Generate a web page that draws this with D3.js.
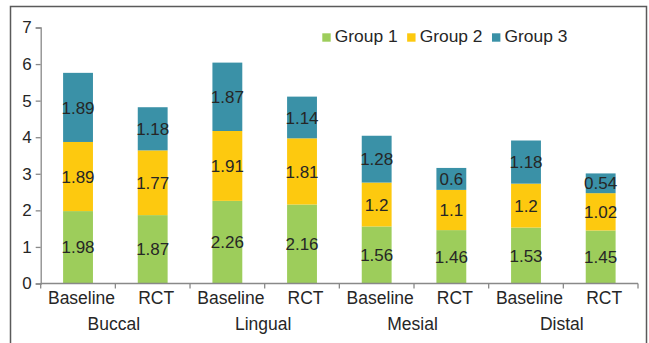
<!DOCTYPE html>
<html>
<head>
<meta charset="utf-8">
<script src="https://cdn.jsdelivr.net/npm/d3@7/dist/d3.min.js"></script>
<style>
  html, body { margin: 0; padding: 0; background: #fff; }
  svg { display: block; }
  text { font-family: "Liberation Sans", Arial, sans-serif; fill: #262626; }
</style>
</head>
<body>
<svg id="chart" width="649" height="343"></svg>
<script>
// Sites and time points (two-level category axis)
const sites = ["Buccal", "Lingual", "Mesial", "Distal"];
const phases = ["Baseline", "RCT"];
const seriesNames = ["Group 1", "Group 2", "Group 3"];
const seriesColors = ["#9dcd5b", "#fdc90f", "#3a91a7"];

// Values per bar, ordered Buccal Baseline, Buccal RCT, Lingual Baseline, ...
const group1 = [1.98, 1.87, 2.26, 2.16, 1.56, 1.46, 1.53, 1.45];
const group2 = [1.89, 1.77, 1.91, 1.81, 1.2, 1.1, 1.2, 1.02];
const group3 = [1.89, 1.18, 1.87, 1.14, 1.28, 0.6, 1.18, 0.54];
const yTicks = [0, 1, 2, 3, 4, 5, 6, 7];

const bars = [];
sites.forEach((s, i) => phases.forEach((p, j) => {
  const k = i * phases.length + j;
  bars.push({ key: s + "|" + p, site: s, phase: p,
    "Group 1": group1[k], "Group 2": group2[k], "Group 3": group3[k] });
}));

const svg = d3.select("#chart");

// outer frame
svg.append("rect")
  .attr("x", 10.5).attr("y", 6.5)
  .attr("width", 636).attr("height", 360)
  .attr("fill", "none").attr("stroke", "#5a5a5a").attr("stroke-width", 1.5);

const x0 = 40.7, x1 = 638, yBottom = 283.5, yTop = 27.5;

const x = d3.scaleBand()
  .domain(bars.map(d => d.key))
  .range([x0, x1])
  .paddingInner(0.6)
  .paddingOuter(0.3);

const y = d3.scaleLinear().domain([0, 7]).range([yBottom, yTop]);

const stack = d3.stack().keys(seriesNames);
const layers = stack(bars);

const color = d3.scaleOrdinal().domain(seriesNames).range(seriesColors);

const g = svg.append("g");
g.selectAll("g.layer")
  .data(layers)
  .join("g")
  .attr("class", "layer")
  .attr("fill", d => color(d.key))
  .selectAll("rect")
  .data(d => d)
  .join("rect")
  .attr("x", d => x(d.data.key))
  .attr("width", x.bandwidth())
  .attr("y", d => y(d[1]))
  .attr("height", d => y(d[0]) - y(d[1]));

// value labels centred in each segment
layers.forEach(layer => {
  g.selectAll(null)
    .data(layer)
    .join("text")
    .attr("x", d => x(d.data.key) + x.bandwidth() / 2)
    .attr("y", d => (y(d[0]) + y(d[1])) / 2)
    .attr("dy", "0.36em")
    .attr("text-anchor", "middle")
    .attr("font-size", 17)
    .text(d => d.data[layer.key]);
});

// y axis
const axisColor = "#898989";
const yAxis = svg.append("g")
  .attr("transform", `translate(${x0},0)`)
  .call(d3.axisLeft(y).tickValues(yTicks).tickSize(5).tickPadding(4).tickFormat(d3.format("d")));
yAxis.select(".domain").attr("stroke", axisColor).attr("stroke-width", 1.3);
yAxis.selectAll(".tick line").attr("stroke", axisColor).attr("stroke-width", 1.3);
yAxis.selectAll(".tick text")
  .attr("font-size", 17)
  .attr("font-family", "Liberation Sans, Arial, sans-serif")
  .attr("fill", "#262626");

// x axis line and boundary ticks
const xAxisG = svg.append("g");
xAxisG.append("line")
  .attr("x1", x0).attr("x2", x1)
  .attr("y1", yBottom).attr("y2", yBottom)
  .attr("stroke", axisColor).attr("stroke-width", 1.3);
const boundaries = d3.range(bars.length + 1).map(i => x0 + i * (x1 - x0) / bars.length);
xAxisG.selectAll("line.tk")
  .data(boundaries)
  .join("line")
  .attr("class", "tk")
  .attr("x1", d => d).attr("x2", d => d)
  .attr("y1", yBottom).attr("y2", yBottom + 5)
  .attr("stroke", axisColor).attr("stroke-width", 1.3);

// phase labels
xAxisG.selectAll("text.phase")
  .data(bars)
  .join("text")
  .attr("class", "phase")
  .attr("x", d => x(d.key) + x.bandwidth() / 2 + 3.5)
  .attr("y", 304)
  .attr("text-anchor", "middle")
  .attr("font-size", 17.5)
  .text(d => d.phase);

// site labels
xAxisG.selectAll("text.site")
  .data(sites)
  .join("text")
  .attr("class", "site")
  .attr("x", (d, i) => {
    const a = x(bars[i * 2].key) + x.bandwidth() / 2;
    const b = x(bars[i * 2 + 1].key) + x.bandwidth() / 2;
    return (a + b) / 2 - 1.5;
  })
  .attr("y", 329.5)
  .attr("text-anchor", "middle")
  .attr("font-size", 17.5)
  .text(d => d);

// legend
const legend = svg.append("g");
let lx = 322.3;
seriesNames.forEach((name, i) => {
  legend.append("rect")
    .attr("x", lx).attr("y", 33.3)
    .attr("width", 8.4).attr("height", 8.4)
    .attr("fill", seriesColors[i]);
  const t = legend.append("text")
    .attr("x", lx + 12.5).attr("y", 41.8)
    .attr("font-size", 17.4)
    .text(name);
  lx = lx + 12.5 + t.node().getComputedTextLength() + 9.5;
});
</script>
</body>
</html>
